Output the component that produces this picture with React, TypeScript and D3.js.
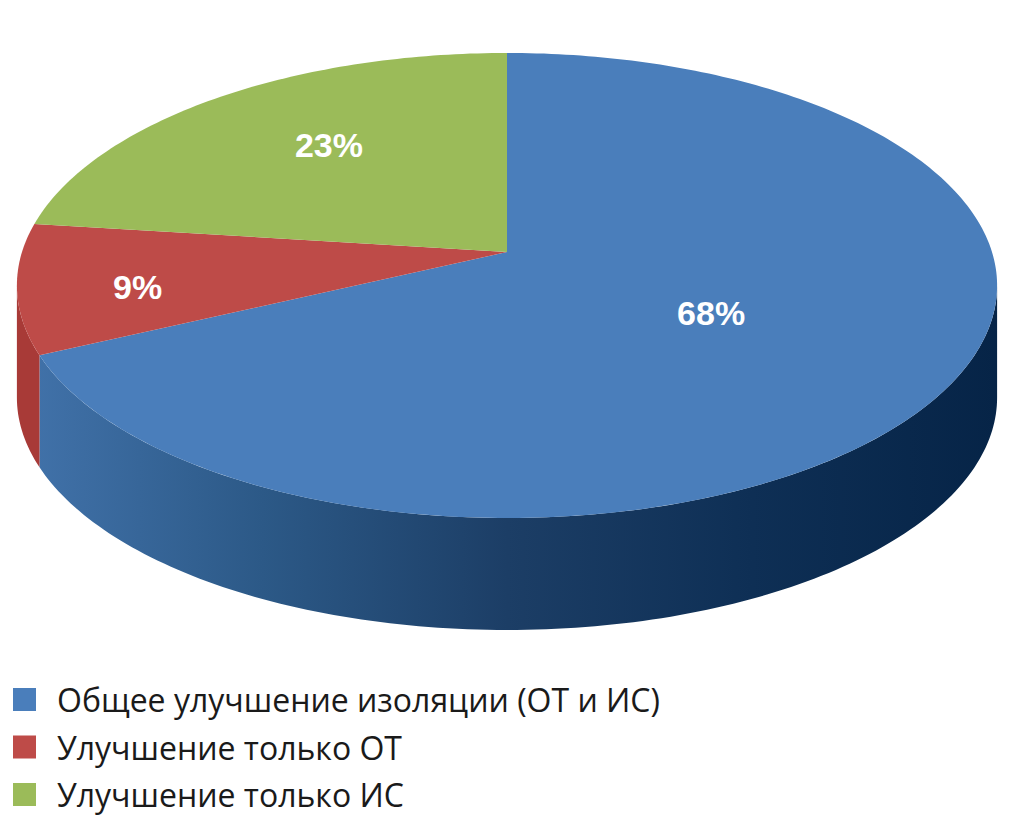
import { useEffect, useRef } from "react";
import * as d3 from "d3";

const categories = [
    "Общее улучшение изоляции (ОТ и ИС)",
    "Улучшение только ОТ",
    "Улучшение только ИС",
];
const values = [68, 9, 23];
const valueLabels = ["68%", "9%", "23%"];
const topColors = ["#4a7ebb", "#be4b48", "#9bbb59"];

export default function App() {
    const svgRef = useRef<SVGSVGElement | null>(null);

    useEffect(() => {
        if (!svgRef.current) return;
        const svg = d3.select(svgRef.current);
        svg.selectAll("*").remove();

        // projected disc: perspective tilt
        const cx = 507;
        const cy = 252;
        const A = 485;
        const B = 227.7;
        const k = 0.144;
        const depth = 112;

        const project = (r: number, t: number): [number, number] => {
            const u = r * Math.cos(t);
            const w = r * Math.sin(t);
            const d = 1 - k * w;
            return [cx + (A * u) / d, cy + (B * w) / d];
        };

        const data = categories.map((c, i) => ({ name: c, value: values[i], i }));
        const pie = d3
            .pie<any>()
            .value((d) => d.value)
            .sort(null);
        const arcs = pie(data).map((a) => ({
            ...a,
            t0: a.startAngle - Math.PI / 2,
            t1: a.endAngle - Math.PI / 2,
        }));

        const sample = (t0: number, t1: number) => {
            const n = Math.max(2, Math.ceil(((t1 - t0) / (Math.PI * 2)) * 360));
            return d3.range(n + 1).map((j) => t0 + ((t1 - t0) * j) / n);
        };
        const line = d3.line();

        const defs = svg.append("defs");
        const grad = defs
            .append("linearGradient")
            .attr("id", "blueSide")
            .attr("gradientUnits", "userSpaceOnUse")
            .attr("x1", cx - 490)
            .attr("x2", cx + 490)
            .attr("y1", 0)
            .attr("y2", 0);
        [
            [0, "#4273ab"],
            [0.25, "#2c5987"],
            [0.5, "#1c3e66"],
            [0.75, "#0e2f55"],
            [1, "#062447"],
        ].forEach(([o, c]) => grad.append("stop").attr("offset", o as number).attr("stop-color", c as string));
        const sideFill = ["url(#blueSide)", "#a83a37", "#7a9a44"];

        // side walls (front half only)
        const vis0 = Math.asin(k);
        const vis1 = Math.PI - Math.asin(k);
        arcs.forEach((a) => {
            const s0 = Math.max(a.t0, vis0);
            const s1 = Math.min(a.t1, vis1);
            if (s1 <= s0) return;
            const ts = sample(s0, s1);
            const topPts = ts.map((t) => project(1, t));
            const botPts = topPts.slice().reverse().map(([x, y]) => [x, y + depth] as [number, number]);
            svg.append("path")
                .attr("d", line([...topPts, ...botPts]) + "Z")
                .attr("fill", sideFill[a.data.i]);
        });

        // top faces
        arcs.forEach((a) => {
            const pts = [project(0, 0), ...sample(a.t0, a.t1).map((t) => project(1, t))];
            svg.append("path")
                .attr("d", line(pts as [number, number][]) + "Z")
                .attr("fill", topColors[a.data.i]);
        });

        // value labels (radius and small angle nudge per slice)
        const labelR = [0.48, 0.76, 0.64];
        const labelNudge = [0, -0.04, 0.06];
        arcs.forEach((a) => {
            const [x, y] = project(labelR[a.data.i], (a.t0 + a.t1) / 2 + labelNudge[a.data.i]);
            svg.append("text")
                .attr("x", x)
                .attr("y", y)
                .attr("dy", "0.36em")
                .attr("text-anchor", "middle")
                .attr("fill", "#ffffff")
                .attr("font-family", "'Liberation Sans', Arial, sans-serif")
                .attr("font-weight", "bold")
                .attr("font-size", "34px")
                .text(valueLabels[a.data.i]);
        });

        // legend
        const legend = svg
            .selectAll(".legend")
            .data(data)
            .enter()
            .append("g")
            .attr("class", "legend")
            .attr("transform", (d, i) => `translate(13, ${688 + i * 47.5})`);
        legend
            .append("rect")
            .attr("width", 23)
            .attr("height", 23)
            .attr("fill", (d) => topColors[d.i]);
        legend
            .append("text")
            .attr("x", 44)
            .attr("y", 24)
            .attr("font-family", "'Open Sans', sans-serif")
            .attr("font-size", "32px")
            .attr("fill", "#1a1a1a")
            .text((d) => d.name);
    }, []);

    return (
        <svg
            ref={svgRef}
            width={1014}
            height={815}
            style={{ position: "absolute", left: 0, top: 0, background: "#ffffff" }}
        />
    );
}
